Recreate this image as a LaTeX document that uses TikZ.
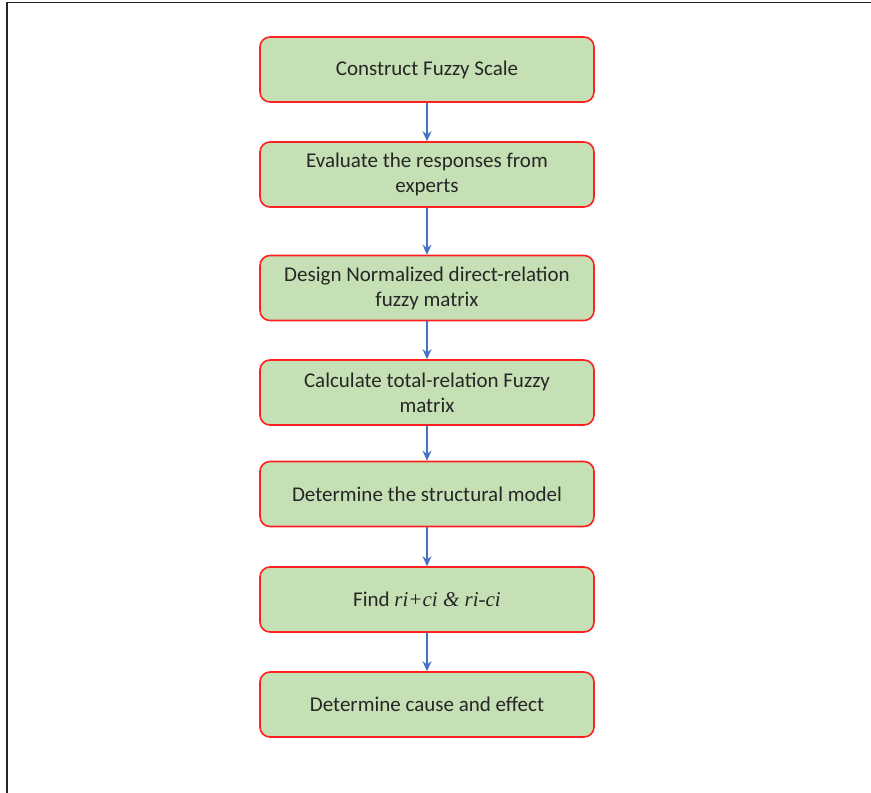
\documentclass[tikz,border=0pt]{standalone}
\usepackage{fontspec}
\setmainfont{Carlito}
\newfontfamily\timesfont{Liberation Serif}
\usetikzlibrary{arrows.meta}
\definecolor{boxfill}{HTML}{C5E0B4}
\definecolor{boxline}{HTML}{FF2020}
\definecolor{flowblue}{HTML}{4472C4}
\begin{document}
\begin{tikzpicture}[x=1pt,y=-1pt,
  stepbox/.style={draw=boxline, line width=1.6pt, fill=boxfill, rounded corners=10pt,
    minimum width=334pt, minimum height=65pt, align=center, inner sep=0pt,
    font=\fontsize{21}{25}\selectfont, text=black!85},
  flow/.style={draw=flowblue, line width=1.5pt, -{Stealth[length=10pt,width=9pt]}}]
  \useasboundingbox (0,0) rectangle (871,793);
  % frame edges
  \draw[line width=1.6pt, black!85] (7,793) -- (7,2.5) -- (871,2.5);
  % process steps
  \node[stepbox] (s1) at (427,69.5) {Construct Fuzzy Scale};
  \node[stepbox] (s2) at (427,174.5) {Evaluate the responses from\\experts};
  \node[stepbox] (s3) at (427,288) {Design Normalized direct-relation\\fuzzy matrix};
  \node[stepbox] (s4) at (427,392.5) {Calculate total-relation Fuzzy\\matrix};
  \node[stepbox] (s5) at (427,494) {Determine the structural model};
  \node[stepbox] (s6) at (427,599.5) {Find {\timesfont\itshape ri+ci \& ri-ci}};
  \node[stepbox] (s7) at (427,704.5) {Determine cause and effect};
  % connectors
  \foreach \a/\b in {s1/s2,s2/s3,s3/s4,s4/s5,s5/s6,s6/s7}
    \draw[flow] (\a.south) -- (\b.north);
\end{tikzpicture}
\end{document}
